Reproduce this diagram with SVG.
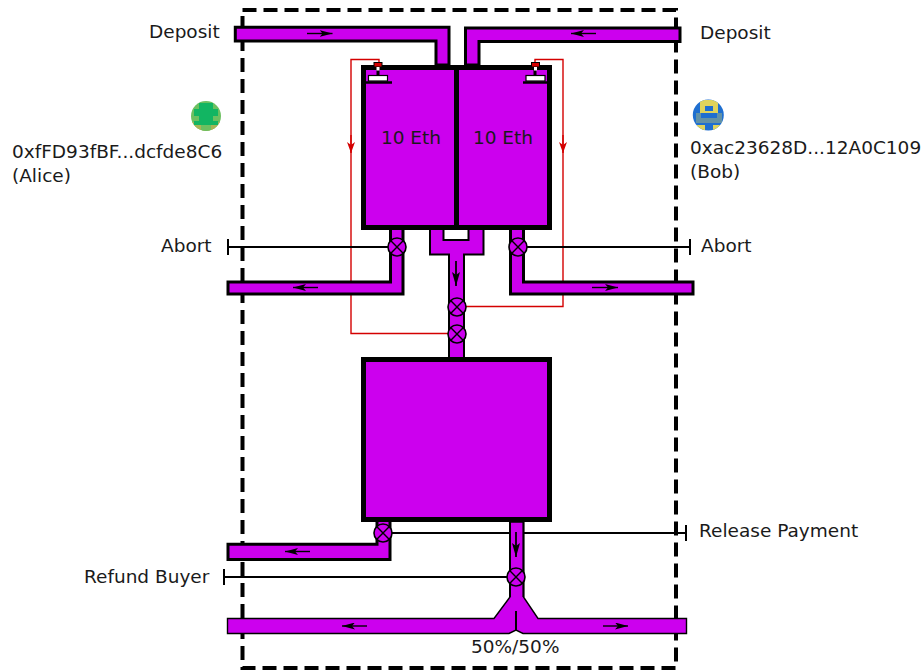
<svg xmlns="http://www.w3.org/2000/svg" width="922" height="672" viewBox="0 0 922 672">
<style>
text{font-family:"DejaVu Sans",sans-serif;font-size:18.5px;fill:#1a1a1a}
.pipe{fill:#cc00ee;stroke:#000;stroke-width:3}
.fork{fill:#cc00ee;stroke:#000;stroke-width:2}
.thin{fill:#cc00ee;stroke:#000;stroke-width:1.4}
.tank{fill:#cc00ee;stroke:#000;stroke-width:5}
.ctl{fill:none;stroke:#000;stroke-width:2}
.red{fill:none;stroke:#d40000;stroke-width:1.4}
.flow{fill:none;stroke:#000;stroke-width:1.4;marker-end:url(#a)}
.flowv{fill:none;stroke:#000;stroke-width:1.8;marker-end:url(#av)}
.valve circle{fill:#cc00ee;stroke:#000;stroke-width:1.6}
.valve path{fill:none;stroke:#000;stroke-width:1.4}
</style>
<defs>
<marker id="a" markerWidth="13" markerHeight="7" refX="13" refY="3.500" orient="auto" markerUnits="userSpaceOnUse"><path d="M0 0L13 3.500L0 7L3 3.500Z" fill="#000"/></marker>
<marker id="av" markerWidth="14" markerHeight="8" refX="14" refY="4" orient="auto" markerUnits="userSpaceOnUse"><path d="M0 0L14 4L0 8L3 4Z" fill="#000"/></marker>
<marker id="r" markerWidth="11" markerHeight="8" refX="11" refY="4" orient="auto" markerUnits="userSpaceOnUse"><path d="M0 0L11 4L0 8L3 4Z" fill="#d40000"/></marker>
<clipPath id="ca"><circle cx="206" cy="116" r="15"/></clipPath>
<clipPath id="cb"><circle cx="708.300" cy="115" r="15.500"/></clipPath>
<g id="vv" class="valve"><circle r="9"/><path d="M-6.400-6.400L6.400 6.400M-6.400 6.400L6.400-6.400"/></g>
</defs>
<rect id="boundary" x="242.500" y="10" width="433.500" height="658" fill="none" stroke="#000" stroke-width="4" stroke-dasharray="14 7"/>
<g id="connectors">
<path class="red" d="M379 66V59.500H351V333.500H448"/>
<path class="red" d="M535 66V59.500H563V306.500H466"/>
<path class="red" d="M351 135V153" marker-end="url(#r)"/>
<path class="red" d="M563 135V153" marker-end="url(#r)"/>
<path class="ctl" d="M228 247H388M228 239V255"/>
<path class="ctl" d="M527 247H690M690 239V255"/>
<path class="ctl" d="M392 533H686M686 525V541"/>
<path class="ctl" d="M224 577H507M224 569V585"/>
<path class="pipe" d="M235.300 27.300H449V65H436V41H235.300Z"/>
<path class="pipe" d="M680 28H465.500V65H479V41.500H680Z"/>
<path class="pipe" d="M390.500 228V282H228V294H403V228Z"/>
<path class="pipe" d="M510.500 228V294H693V282H523.500V228Z"/>
<path class="fork" d="M430 228V254.500H449V358H464V254.500H483.500V228H468.500V240H443.500V228Z"/>
<path class="pipe" d="M377 520V544.300H228V559.500H390V520Z"/>
<path class="thin" d="M227.500 618.500H494L510 597V522H523.500V597L538 618.500H686.500V633.500H523L516 630L509 633.500H227.500Z"/>
<path class="ctl" d="M510 522V597M523.500 522V597"/>
<path class="ctl" d="M516 611V631"/>
<path class="flow" d="M307 33.500H332.500"/>
<path class="flow" d="M596 33.500H571"/>
<path class="flow" d="M318 287.500H293"/>
<path class="flow" d="M592 287.500H618"/>
<path class="flow" d="M310 551.500H285"/>
<path class="flow" d="M367 626H342"/>
<path class="flow" d="M603 626H628"/>
<path class="flowv" d="M456 261V286"/>
<path class="flowv" d="M516 532V557"/>
</g>
<g id="tank-alice">
<rect class="tank" x="363.500" y="67.500" width="93" height="160"/>
<text x="411" y="144" text-anchor="middle">10 Eth</text>
<path d="M366 82.500H392" stroke="#000" stroke-width="2.500"/>
<rect x="368.500" y="75.500" width="19" height="5.500" fill="#fff" stroke="#000" stroke-width="1.200"/>
<path d="M378 69V76" stroke="#000" stroke-width="3"/>
<rect x="374" y="62.500" width="8" height="4.500" fill="#d40000" stroke="#000" stroke-width="1"/>
<rect x="376.500" y="67" width="3" height="3.500" fill="#fff"/>
</g>
<g id="tank-bob">
<rect class="tank" x="456.500" y="67.500" width="93" height="160"/>
<text x="503" y="144" text-anchor="middle">10 Eth</text>
<path d="M523 82.500H549" stroke="#000" stroke-width="2.500"/>
<rect x="526" y="75.500" width="19" height="5.500" fill="#fff" stroke="#000" stroke-width="1.200"/>
<path d="M535 69V76" stroke="#000" stroke-width="3"/>
<rect x="531.500" y="62.500" width="8" height="4.500" fill="#d40000" stroke="#000" stroke-width="1"/>
<rect x="534" y="67" width="3" height="3.500" fill="#fff"/>
</g>
<g id="tank-escrow"><rect class="tank" x="363.500" y="359.500" width="186" height="160"/></g>
<g id="valves">
<use href="#vv" x="397" y="247"/>
<use href="#vv" x="518" y="247"/>
<use href="#vv" x="457" y="307"/>
<use href="#vv" x="457" y="334"/>
<use href="#vv" x="383" y="533"/>
<use href="#vv" x="516" y="577"/>
</g>
<g id="alice">
<g clip-path="url(#ca)">
<rect x="190" y="100" width="32" height="32" fill="#6cc060"/>
<rect x="190" y="122" width="32" height="10" fill="#a9b455"/>
<path d="M199 103H213V109H218V116H213V121H218V125H194V121H199V116H194V109H199Z" fill="#12b562"/>
<path d="M201 125H211V131H201Z" fill="#6cc060"/>
</g>
<text x="12" y="158">0xfFD93fBF...dcfde8C6</text>
<text x="12" y="182">(Alice)</text>
</g>
<g id="bob">
<g clip-path="url(#cb)">
<rect x="692" y="99" width="33" height="33" fill="#1f6fd0"/>
<path d="M700 100H718V113H700Z" fill="#e0d45c"/>
<rect x="705" y="106" width="8" height="5" fill="#1f6fd0"/>
<path d="M696 113H701V118H717V113H722V123H696Z" fill="#e0d45c" opacity="0.35"/>
<path d="M697 125H705V131H697ZM713 125H722V131H713Z" fill="#e0d45c"/>
</g>
<text x="690" y="154">0xac23628D...12A0C109</text>
<text x="690" y="178">(Bob)</text>
</g>
<g id="labels">
<text x="149" y="38">Deposit</text>
<text x="700" y="39">Deposit</text>
<text x="161" y="252">Abort</text>
<text x="701" y="252">Abort</text>
<text x="699" y="537">Release Payment</text>
<text x="84" y="583">Refund Buyer</text>
<text x="471" y="653">50%/50%</text>
</g>
</svg>
